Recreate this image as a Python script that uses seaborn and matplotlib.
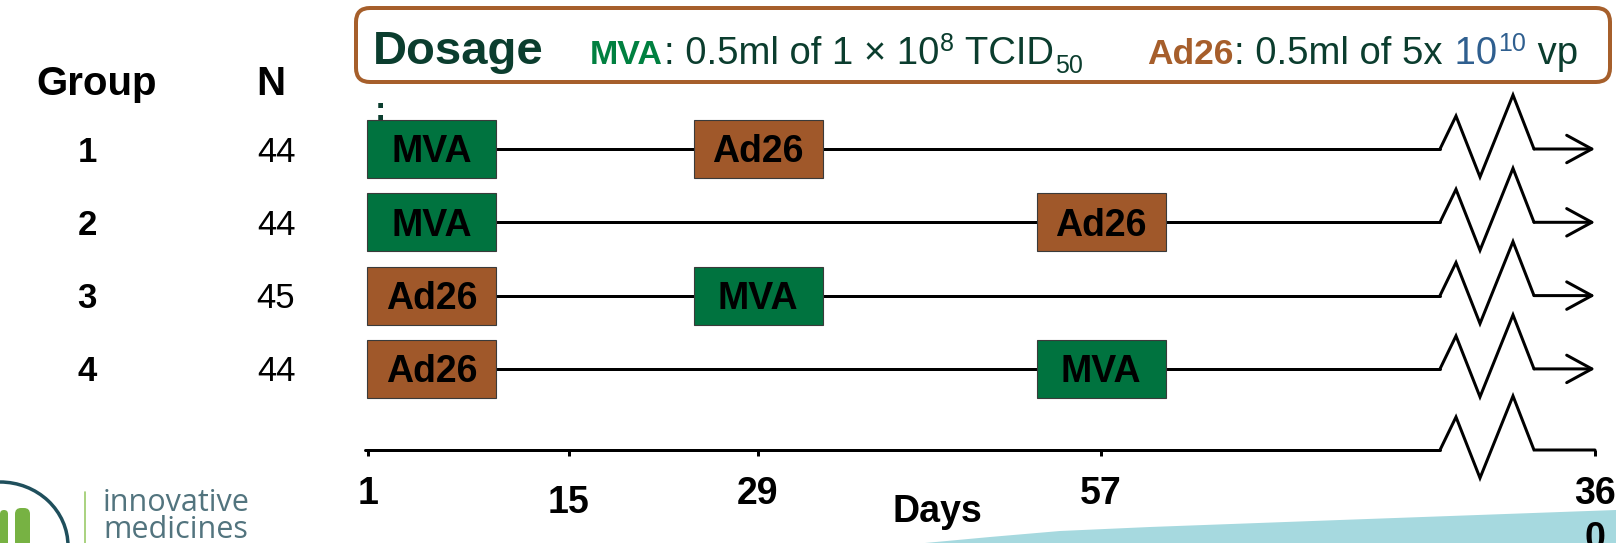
import numpy as np
import pandas as pd
import seaborn as sns
import matplotlib.pyplot as plt
import matplotlib.transforms as mtransforms
from matplotlib.patches import Rectangle, FancyBboxPatch, Polygon, Arc

# ---- data ----
groups = ['1', '2', '3', '4']
n_subjects = [44, 44, 45, 44]
first_vaccine = ['MVA', 'MVA', 'Ad26', 'Ad26']
first_day = [1, 1, 1, 1]
second_vaccine = ['Ad26', 'Ad26', 'MVA', 'MVA']
second_day = [29, 57, 29, 57]
tick_days = [1, 15, 29, 57, 360]
tick_labels = ['1', '15', '29', '57', '36\n0']
end_day = 360

# ---- layout (pixels on a 1616x543 canvas) ----
W, H = 1616, 543
tick_px = [368, 569, 758, 1101, 1595]      # broken day axis
row0_px, row_step = 149, 73.3
axis_px = 450
box_w, box_h = 129, 58
zig_dx = [-155, -139, -115, -82, -61]
zig_dy = [0, 33, -28, 54, 0]
lw = 3 * 0.72

green, brown, dark = '#00733F', '#A0582A', '#0B3D2E'
colors = {'MVA': green, 'Ad26': brown}

sns.set_theme(style='white')
plt.rcParams['font.family'] = ['Liberation Sans', 'DejaVu Sans']

slope_lo = (tick_px[1] - tick_px[0]) / (tick_days[1] - tick_days[0])
slope_hi = (tick_px[-1] - tick_px[-2]) / (tick_days[-1] - tick_days[-2])


def fwd(d):
    d = np.asarray(d, float)
    out = np.interp(d, tick_days, tick_px)
    out = np.where(d < tick_days[0], tick_px[0] + (d - tick_days[0]) * slope_lo, out)
    return np.where(d > tick_days[-1], tick_px[-1] + (d - tick_days[-1]) * slope_hi, out)


def inv(p):
    p = np.asarray(p, float)
    out = np.interp(p, tick_px, tick_days)
    out = np.where(p < tick_px[0], tick_days[0] + (p - tick_px[0]) / slope_lo, out)
    return np.where(p > tick_px[-1], tick_days[-1] + (p - tick_px[-1]) / slope_hi, out)


def g_of(px):
    return (px - row0_px) / row_step


fig = plt.figure(figsize=(W / 100, H / 100), dpi=100)
ax = fig.add_axes([0, 0, 1, 1])
ax.set_xscale('function', functions=(fwd, inv))

rows = list(range(len(groups)))
zig_start = float(inv(fwd(end_day) + zig_dx[0]))
zig_end = float(inv(fwd(end_day) + zig_dx[-1]))

# timelines
lines = pd.DataFrame({'day': [d for d in first_day for _ in (0, 1)],
                      'row': [r for r in rows for _ in (0, 1)]})
lines.loc[1::2, 'day'] = zig_start
sns.lineplot(data=lines, x='day', y='row', units='row', estimator=None,
             sort=False, color='black', lw=lw, ax=ax, legend=False)

ax.set_xlim(float(inv(0)), float(inv(W)))
ax.set_ylim(g_of(H), g_of(0))
axis_g = g_of(axis_px)


def anchored(day, g):
    return mtransforms.ScaledTranslation(day, g, ax.transData)


for r in rows:
    ax.plot(zig_dx, zig_dy, transform=anchored(end_day, r), color='black',
            lw=lw, solid_joinstyle='miter', clip_on=False)
    ax.annotate('', xy=(end_day, r), xytext=(zig_end, r),
                arrowprops=dict(arrowstyle='->,head_length=0.55,head_width=0.3',
                                lw=lw, color='black', mutation_scale=33,
                                shrinkA=0, shrinkB=0))
    for vac, day, left in [(first_vaccine[r], first_day[r], True),
                           (second_vaccine[r], second_day[r], False)]:
        x0 = -1 if left else -box_w / 2
        tr = anchored(day, r)
        ax.add_patch(Rectangle((x0, -box_h / 2), box_w, box_h, transform=tr,
                               facecolor=colors[vac], edgecolor='#3a3a3a',
                               lw=0.8, zorder=3))
        ax.text(x0 + box_w / 2, -13.4, vac, transform=tr, ha='center',
                va='baseline', fontsize=27, fontweight='bold', color='black',
                zorder=4)

# day axis with break
ax.plot([tick_days[0] - 0.2, zig_start], [axis_g, axis_g], color='black', lw=lw)
ax.plot(zig_dx + [0], zig_dy + [0], transform=anchored(end_day, axis_g),
        color='black', lw=lw, solid_joinstyle='miter', clip_on=False)
for s in ax.spines.values():
    s.set_visible(False)
ax.spines['bottom'].set_position(('data', axis_g))
ax.set_xticks(tick_days, tick_labels)
ax.tick_params(axis='x', bottom=True, direction='out', length=6 * 0.72,
               width=3 * 0.72, pad=14.5, labelsize=27, colors='black')
ax.tick_params(axis='y', left=False, labelleft=False)
for lab in ax.get_xticklabels():
    lab.set_fontweight('bold')
    lab.set_linespacing(1.3)
ax.xaxis.get_major_ticks()[1].set_pad(21)
ax.set_xlabel('')
ax.set_ylabel('')
ax.grid(False)

# pixel transform (origin top-left)
pxT = mtransforms.Affine2D().scale(1, -1).translate(0, H)

ax.text(937, 522, 'Days', transform=pxT, ha='center', va='baseline',
        fontsize=27, fontweight='bold', color='black')

# left table
ax.text(97, 95, 'Group', transform=pxT, ha='center', va='baseline',
        fontsize=29, fontweight='bold', color='black')
ax.text(271, 95, 'N', transform=pxT, ha='center', va='baseline',
        fontsize=29, fontweight='bold', color='black')
rowT = mtransforms.blended_transform_factory(mtransforms.IdentityTransform(), ax.transData) \
    + mtransforms.Affine2D().translate(0, -12.5)
for r in rows:
    ax.text(87, r, groups[r], transform=rowT, ha='center', va='baseline',
            fontsize=25, fontweight='bold', color='black')
    ax.text(276, r, str(n_subjects[r]), transform=rowT, ha='center',
            va='baseline', fontsize=25, color='black')
ax.text(380, 120, ':', transform=pxT, ha='center', va='baseline',
        fontsize=24, fontweight='bold', color=dark)

# dosage header
ax.add_patch(FancyBboxPatch((356, 8), 1254, 74,
                            boxstyle='round,pad=0,rounding_size=14',
                            transform=pxT, facecolor='white', edgecolor='#A65F2B',
                            lw=4 * 0.72, zorder=2))
renderer = fig.canvas.get_renderer()


def run(x, pieces):
    for txt, size, weight, color, dy in pieces:
        t = ax.text(x, 64 + dy, txt, transform=pxT, ha='left', va='baseline',
                    fontsize=size, fontweight=weight, color=color, zorder=5)
        x = t.get_window_extent(renderer).x1 + 1


ax.text(373, 64, 'Dosage', transform=pxT, ha='left', va='baseline',
        fontsize=34, fontweight='bold', color=dark, zorder=5)
run(590, [('MVA', 24.5, 'bold', '#008040', 0),
          (': 0.5ml of 1 × 10', 27.5, 'normal', dark, 0),
          ('8', 18, 'normal', dark, -13),
          (' TCID', 27.5, 'normal', dark, 0),
          ('50', 18, 'normal', dark, 9)])
run(1147, [('Ad26', 25.5, 'bold', '#A65E2B', 0),
           (': 0.5ml of 5x', 27.5, 'normal', dark, 0),
           (' 10', 27.5, 'normal', '#2F5F8F', 0),
           ('10', 18, 'normal', '#2F5F8F', -13),
           (' vp', 27.5, 'normal', dark, 0)])

# decorations: swoosh and logo
ax.add_patch(Polygon([(925, 543), (990, 537), (1060, 531), (1150, 527),
                      (1340, 520), (1616, 510), (1616, 543)],
                     transform=pxT, facecolor='#A6D9DF', edgecolor='none', zorder=0))
ax.add_patch(FancyBboxPatch((0, 510), 8, 40, boxstyle='round,pad=0,rounding_size=4',
                            transform=pxT, facecolor='#77B243', edgecolor='none'))
ax.add_patch(FancyBboxPatch((15, 508), 15, 40, boxstyle='round,pad=0,rounding_size=6',
                            transform=pxT, facecolor='#77B243', edgecolor='none'))
ax.add_patch(Arc((0, 546), 136, 128, theta1=270, theta2=360, transform=pxT,
                 color='#1F4F5C', lw=2.5))
ax.plot([85, 85], [492, 543], transform=pxT, color='#9BCB6A', lw=1.2)
ax.text(103, 538, 'innovative\nmedicines', transform=pxT, ha='left',
        va='baseline', fontsize=22, linespacing=0.85,
        family=['Open Sans', 'DejaVu Sans'], color='#52747E')

fig.savefig('out.png', dpi=100)
